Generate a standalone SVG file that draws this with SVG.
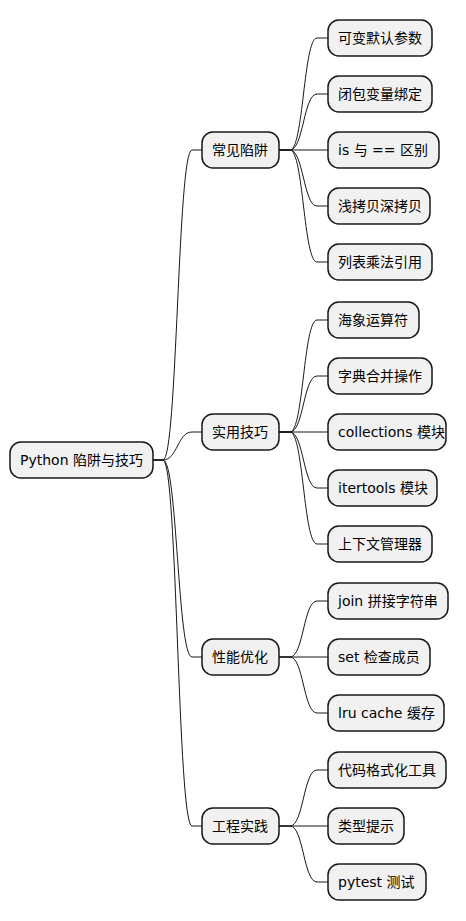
<svg xmlns="http://www.w3.org/2000/svg" width="466" height="921" viewBox="0 0 466 921">
<style>
.n rect{fill:#F1F1F1;stroke:#181818;stroke-width:1.5}
.n text{font-family:"DejaVu Sans","Noto Sans CJK SC",sans-serif;font-size:14px;fill:#000}
.c path{fill:none;stroke:#181818;stroke-width:1}
</style>
<rect width="466" height="921" fill="#FFFFFF"/>
<g id="connectors" class="c">
<path d="M153,460 L163,460 C177.5,460 177.5,150 192,150 L202,150"/>
<path d="M153,460 L163,460 C177.5,460 177.5,432 192,432 L202,432"/>
<path d="M153,460 L163,460 C177.5,460 177.5,657 192,657 L202,657"/>
<path d="M153,460 L163,460 C177.5,460 177.5,826 192,826 L202,826"/>
<path d="M279,150 L290,150 C303.5,150 303.5,38 317,38 L328,38"/>
<path d="M279,150 L290,150 C303.5,150 303.5,94 317,94 L328,94"/>
<path d="M279,150 L328,150"/>
<path d="M279,150 L290,150 C303.5,150 303.5,206 317,206 L328,206"/>
<path d="M279,150 L290,150 C303.5,150 303.5,262 317,262 L328,262"/>
<path d="M279,432 L290,432 C303.5,432 303.5,320 317,320 L328,320"/>
<path d="M279,432 L290,432 C303.5,432 303.5,376 317,376 L328,376"/>
<path d="M279,432 L328,432"/>
<path d="M279,432 L290,432 C303.5,432 303.5,488 317,488 L328,488"/>
<path d="M279,432 L290,432 C303.5,432 303.5,544 317,544 L328,544"/>
<path d="M279,657 L290,657 C303.5,657 303.5,601 317,601 L328,601"/>
<path d="M279,657 L328,657"/>
<path d="M279,657 L290,657 C303.5,657 303.5,713 317,713 L328,713"/>
<path d="M279,826 L290,826 C303.5,826 303.5,770 317,770 L328,770"/>
<path d="M279,826 L328,826"/>
<path d="M279,826 L290,826 C303.5,826 303.5,882 317,882 L328,882"/>
</g>
<g id="root" class="n"><rect x="10" y="442" width="143" height="36" rx="11"/><text x="20" y="465">Python 陷阱与技巧</text></g>
<g id="pitfalls" class="n"><rect x="202" y="132" width="77" height="36" rx="11"/><text x="212" y="155">常见陷阱</text></g>
<g id="tips" class="n"><rect x="202" y="414" width="77" height="36" rx="11"/><text x="212" y="437">实用技巧</text></g>
<g id="perf" class="n"><rect x="202" y="639" width="77" height="36" rx="11"/><text x="212" y="662">性能优化</text></g>
<g id="eng" class="n"><rect x="202" y="808" width="77" height="36" rx="11"/><text x="212" y="831">工程实践</text></g>
<g id="p1" class="n"><rect x="328" y="20" width="104" height="36" rx="11"/><text x="338" y="43">可变默认参数</text></g>
<g id="p2" class="n"><rect x="328" y="76" width="104" height="36" rx="11"/><text x="338" y="99">闭包变量绑定</text></g>
<g id="p3" class="n"><rect x="328" y="132" width="111" height="36" rx="11"/><text x="338" y="155">is 与 == 区别</text></g>
<g id="p4" class="n"><rect x="328" y="188" width="102" height="36" rx="11"/><text x="338" y="211">浅拷贝深拷贝</text></g>
<g id="p5" class="n"><rect x="328" y="244" width="104" height="36" rx="11"/><text x="338" y="267">列表乘法引用</text></g>
<g id="t1" class="n"><rect x="328" y="302" width="91" height="36" rx="11"/><text x="338" y="325">海象运算符</text></g>
<g id="t2" class="n"><rect x="328" y="358" width="104" height="36" rx="11"/><text x="338" y="381">字典合并操作</text></g>
<g id="t3" class="n"><rect x="328" y="414" width="118" height="36" rx="11"/><text x="338" y="437">collections 模块</text></g>
<g id="t4" class="n"><rect x="328" y="470" width="109" height="36" rx="11"/><text x="338" y="493">itertools 模块</text></g>
<g id="t5" class="n"><rect x="328" y="526" width="104" height="36" rx="11"/><text x="338" y="549">上下文管理器</text></g>
<g id="f1" class="n"><rect x="328" y="583" width="120" height="36" rx="11"/><text x="338" y="606">join 拼接字符串</text></g>
<g id="f2" class="n"><rect x="328" y="639" width="102" height="36" rx="11"/><text x="338" y="662">set 检查成员</text></g>
<g id="f3" class="n"><rect x="328" y="695" width="116" height="36" rx="11"/><text x="338" y="718">lru cache 缓存</text></g>
<g id="e1" class="n"><rect x="328" y="752" width="118" height="36" rx="11"/><text x="338" y="775">代码格式化工具</text></g>
<g id="e2" class="n"><rect x="328" y="808" width="76" height="36" rx="11"/><text x="338" y="831">类型提示</text></g>
<g id="e3" class="n"><rect x="328" y="864" width="98" height="36" rx="11"/><text x="338" y="887">pytest 测试</text></g>
</svg>
